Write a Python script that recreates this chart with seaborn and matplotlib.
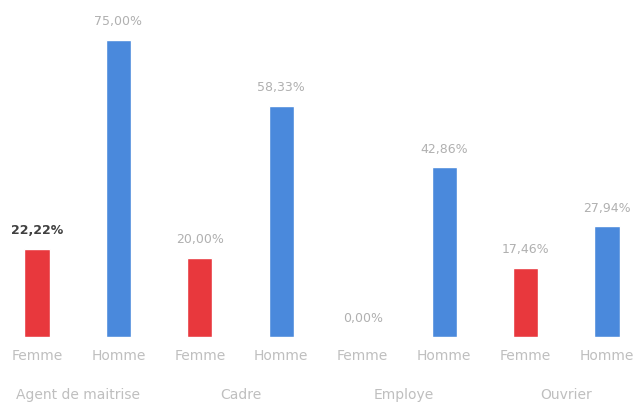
import matplotlib
matplotlib.use("Agg")
import matplotlib.pyplot as plt
import seaborn as sns
import pandas as pd

categories = ["Agent de maitrise", "Cadre", "Employe", "Ouvrier"]
sexes = ["Femme", "Homme"]
femme_values = [22.22, 20.00, 0.00, 17.46]
homme_values = [75.00, 58.33, 42.86, 27.94]
value_labels_f = ["22,22%", "20,00%", "0,00%", "17,46%"]
value_labels_h = ["75,00%", "58,33%", "42,86%", "27,94%"]

rows = []
for i, c in enumerate(categories):
    rows.append({"key": f"{c}|Femme", "cat": c, "sexe": "Femme", "val": femme_values[i], "lab": value_labels_f[i]})
    rows.append({"key": f"{c}|Homme", "cat": c, "sexe": "Homme", "val": homme_values[i], "lab": value_labels_h[i]})
df = pd.DataFrame(rows)

sns.set_style("white")
fig = plt.figure(figsize=(6.35, 4.03), dpi=100)
ax = fig.add_axes([0, 66 / 403, 1, 337 / 403])

palette = {"Femme": "#E8383D", "Homme": "#4A89DC"}
sns.barplot(data=df, x="key", y="val", hue="sexe", order=list(df["key"]),
            palette=palette, dodge=False, width=0.31, legend=False, ax=ax,
            saturation=1)

ax.set_xlim(-0.454, 7.344)
ax.set_ylim(0, 85.1)
for s in ax.spines.values():
    s.set_visible(False)
ax.set_yticks([])
ax.set_xlabel("")
ax.set_ylabel("")
ax.set_xticks(range(len(df)))
ax.set_xticklabels(list(df["sexe"]), color="#bfbfbf", fontsize=10)
ax.tick_params(axis="x", length=0, pad=9)

for i, r in df.iterrows():
    color = "#404040" if r["lab"] == "22,22%" else "#b0b0b0"
    ax.annotate(r["lab"], (i, r["val"]), xytext=(0, 13), textcoords="offset points",
                ha="center", va="center", fontsize=9, color=color,
                fontweight="bold" if r["lab"] == "22,22%" else "normal")

for j, c in enumerate(categories):
    ax.annotate(c, (2 * j + 0.5, 0), xytext=(0, -58), textcoords="offset pixels",
                ha="center", va="center", fontsize=10, color="#bfbfbf",
                annotation_clip=False)

fig.savefig("out.png", dpi=100)
